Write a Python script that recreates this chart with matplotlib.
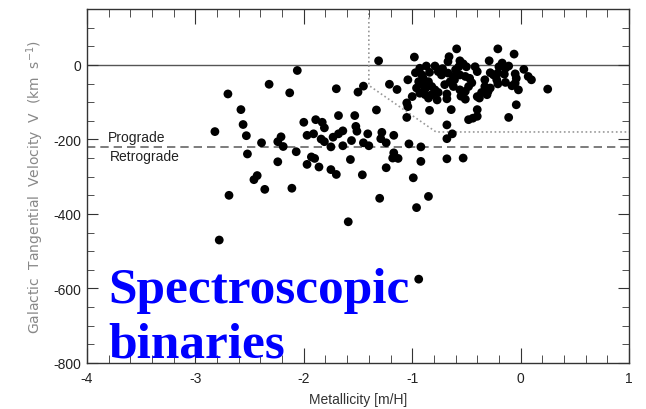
"""
Galactic tangential velocity vs metallicity, spectroscopic binaries sample.
Writes out.png (646x410).
"""

import matplotlib
matplotlib.use("Agg")
import matplotlib.pyplot as plt
from matplotlib.ticker import MultipleLocator

plt.rcParams["axes.unicode_minus"] = False

# ── data: metallicity [m/H] and tangential velocity V (km/s) ────────────────
halo_feh = [
    -2.06, -2.32, -2.70, -2.13, -1.70, -1.50, -1.45, -1.21, -1.14, -1.31,
    -1.33, -1.04, -1.05, -1.04, -1.05, -0.84, -0.68, -2.58, -2.56, -2.82,
    -2.53, -2.39, -2.52, -2.24, -2.21, -2.19, -2.07, -2.00, -1.89, -1.83,
    -1.81, -1.97, -1.91, -1.84, -1.81, -1.75, -1.73, -1.68, -1.64, -1.68,
    -1.53, -1.52, -1.51, -1.56, -1.64, -1.41, -1.45, -1.40, -1.28, -1.29,
    -1.24, -1.17, -1.03, -0.92, -0.68, -0.68, -1.93, -1.90, -1.97, -1.86,
    -2.24, -1.75, -1.70, -1.57, -1.46, -1.24, -1.17, -1.18, -1.13, -0.92,
    -0.68, -0.53, -0.99, -2.43, -2.46, -2.36, -2.11, -2.69, -1.30, -0.85,
    -0.96, -1.59, -2.78, -0.94,
]
halo_v = [
    -15, -52, -78, -75, -64, -73, -57, -52, -66, 11,
    -121, -40, -102, -112, -141, -122, -91, -120, -160, -179,
    -190, -209, -239, -206, -193, -219, -233, -154, -147, -154,
    -169, -189, -185, -199, -206, -220, -194, -185, -177, -136,
    -136, -165, -178, -203, -217, -185, -209, -217, -181, -198,
    -209, -189, -212, -220, -198, -161, -247, -251, -267, -274,
    -260, -281, -294, -254, -295, -276, -236, -250, -251, -259,
    -252, -250, -303, -297, -308, -334, -331, -350, -358, -353,
    -383, -421, -470, -575,
]

disk_feh = [
    -0.98, -0.59, -0.66, -0.67, -0.56, -0.53, -0.50, -0.57, -0.60, -0.42,
    -0.40, -0.93, -0.87, -0.79, -0.97, -0.91, -0.76, -0.73, -0.67, -0.62,
    -0.56, -0.51, -0.47, -0.94, -0.90, -0.96, -0.85, -0.82, -0.79, -0.70,
    -0.65, -0.61, -0.56, -0.51, -0.48, -1.00, -0.93, -0.88, -0.85, -0.82,
    -0.76, -0.77, -0.51, -0.40, -0.64, -0.40, -0.48, -0.44, -0.40, -0.63,
    -0.21, -0.06, -0.29, -0.17, -0.20, -0.14, -0.11, 0.03, 0.07, 0.10,
    -0.28, -0.25, -0.21, -0.05, -0.04, -0.22, -0.21, -0.14, -0.33, -0.28,
    -0.30, -0.08, -0.02, -0.05, -0.36, -0.31, -0.38, 0.25, -0.04, -0.11,
    -0.90, -0.72, -0.62, -0.45, -0.84, -0.68, -0.33, -0.15, -0.88, -0.55,
]
disk_v = [
    21, 43, 22, 9, 11, 3, -5, -5, -13, -5,
    -18, -9, -3, -3, -21, -27, -18, -27, -22, -31,
    -27, -31, -36, -45, -53, -62, -45, -58, -67, -53,
    -45, -40, -67, -71, -58, -85, -76, -80, -89, -80,
    -74, -94, -92, -85, -120, -120, -147, -143, -138, -185,
    43, 29, 11, 5, -5, -9, -3, -12, -31, -40,
    -21, -27, -22, -24, -36, -40, -51, -47, -58, -62,
    -71, -56, -67, -49, -74, -80, -89, -65, -107, -141,
    -35, -10, -58, -48, -20, -78, -40, -25, -64, -84,
]

# halo / disk separation (dotted) and prograde / retrograde boundary
sep_feh = [-1.4, -1.4, -0.78, 1.0]
sep_v = [150, -55, -180, -180]
v_retro = -220

fig = plt.figure(figsize=(6.46, 4.10), dpi=100)
ax = fig.add_axes([87 / 646, 1 - 364 / 410, 542 / 646, 354 / 410])

ax.axhline(0, color="#555555", lw=1.0, zorder=1)
ax.axhline(v_retro, color="#666666", lw=1.2, ls=(0, (5, 3)), zorder=1)
ax.plot(sep_feh, sep_v, color="#999999", lw=1.2, ls=(0, (1, 1.6)), zorder=1)

ax.scatter(halo_feh + disk_feh, halo_v + disk_v, s=40, c="black",
           edgecolors="none", zorder=3)

ax.text(-3.81, v_retro + 8, "Prograde", fontsize=10, color="#222222",
        family="Liberation Sans", va="bottom")
ax.text(-3.79, v_retro - 6, "Retrograde", fontsize=10, color="#222222",
        family="Liberation Sans", va="top")

ax.set_xlim(-4, 1)
ax.set_ylim(-800, 150)
ax.xaxis.set_major_locator(MultipleLocator(1))
ax.xaxis.set_minor_locator(MultipleLocator(0.2))
ax.yaxis.set_major_locator(MultipleLocator(200))
ax.yaxis.set_minor_locator(MultipleLocator(50))
ax.tick_params(which="both", direction="in", top=True, right=True,
               color="#333333", labelsize=10, labelcolor="#222222")
ax.tick_params(axis="x", which="major", length=11, pad=6)
ax.tick_params(axis="x", which="minor", length=5.5)
ax.tick_params(axis="y", which="major", length=8, pad=4)
ax.tick_params(axis="y", which="minor", length=5)
for lab in ax.get_xticklabels() + ax.get_yticklabels():
    lab.set_family("Liberation Sans")
for sp in ax.spines.values():
    sp.set_color("#333333")
    sp.set_linewidth(1.0)

ax.set_xlabel("Metallicity [m/H]", fontsize=10, color="#333333",
              family="Liberation Sans", labelpad=5)
ax.set_ylabel(r"Galactic  Tangential  Velocity  V  (km  s$^{-1}$)",
              fontsize=10, color="#888888", labelpad=5)

# big blue overlay caption
fig.text(108 / 646, 1 - 303 / 410, "Spectroscopic", fontsize=37,
         fontweight="bold", family="Liberation Serif", color="#0000ff",
         va="baseline")
fig.text(108 / 646, 1 - 358 / 410, "binaries", fontsize=37,
         fontweight="bold", family="Liberation Serif", color="#0000ff",
         va="baseline")

fig.savefig("out.png", dpi=100)
